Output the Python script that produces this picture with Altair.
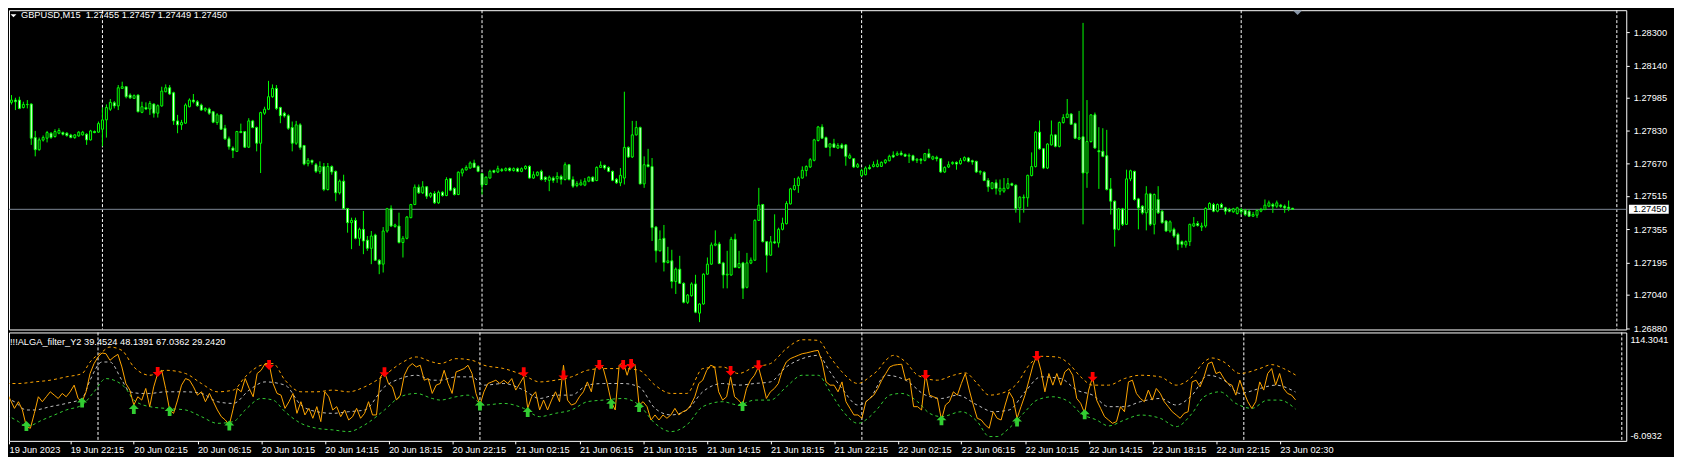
import json
import altair as alt
import pandas as pd

# ---------------- data ----------------
main_title = "GBPUSD,M15\u00a0 1.27455 1.27457 1.27449 1.27450"
ind_title = "!!!ALGA_filter_Y2 39.4524 48.1391 67.0362 29.2420"
ind_max_label = "114.3041"
ind_min_label = "-6.0932"
current_price = 1.27450
price_ticks = [1.28300, 1.28140, 1.27985, 1.27830, 1.27670, 1.27515,
               1.27355, 1.27195, 1.27040, 1.26880]
tick_labels = ["19 Jun 2023", "19 Jun 22:15", "20 Jun 02:15", "20 Jun 06:15",
               "20 Jun 10:15", "20 Jun 14:15", "20 Jun 18:15", "20 Jun 22:15",
               "21 Jun 02:15", "21 Jun 06:15", "21 Jun 10:15", "21 Jun 14:15",
               "21 Jun 18:15", "21 Jun 22:15", "22 Jun 02:15", "22 Jun 06:15",
               "22 Jun 10:15", "22 Jun 14:15", "22 Jun 18:15", "22 Jun 22:15",
               "23 Jun 02:30"]
tick_bars = [0.625] + [16 * k for k in range(1, 21)]
separator_bars = [23, 119, 215, 311]
vline_bars = [406]
shift_marker_bar = [325.25]

opens = [
1.27963,1.27974,1.27974,1.27938,1.27952,1.27955,1.27794,1.27736,1.27782,1.27791,
1.27815,1.27799,1.27815,1.27818,1.27815,1.27806,1.27794,1.27802,1.27807,1.27810,
1.27783,1.27823,1.27820,1.27834,1.27879,1.27930,1.27961,1.27946,1.28030,1.28038,
1.27998,1.27982,1.27998,1.27915,1.27938,1.27931,1.27955,1.27911,1.27946,1.28014,
1.28033,1.28009,1.27874,1.27855,1.27863,1.27942,1.27974,1.27966,1.27950,1.27926,
1.27931,1.27918,1.27866,1.27903,1.27839,1.27788,1.27744,1.27728,1.27823,1.27823,
1.27748,1.27874,1.27842,1.27767,1.27911,1.27930,1.27990,1.28030,1.27938,1.27911,
1.27899,1.27842,1.27767,1.27855,1.27756,1.27669,1.27685,1.27664,1.27632,1.27655,
1.27545,1.27655,1.27632,1.27529,1.27585,1.27454,1.27386,1.27397,1.27311,1.27354,
1.27302,1.27263,1.27327,1.27206,1.27187,1.27346,1.27453,1.27368,1.27370,1.27291,
1.27311,1.27410,1.27473,1.27556,1.27529,1.27558,1.27513,1.27526,1.27481,1.27532,
1.27516,1.27597,1.27550,1.27521,1.27624,1.27639,1.27648,1.27672,1.27656,1.27621,
1.27569,1.27600,1.27636,1.27629,1.27640,1.27637,1.27647,1.27636,1.27645,1.27632,
1.27645,1.27656,1.27600,1.27613,1.27632,1.27604,1.27589,1.27600,1.27597,1.27608,
1.27593,1.27664,1.27593,1.27564,1.27567,1.27566,1.27585,1.27604,1.27588,1.27651,
1.27661,1.27651,1.27632,1.27594,1.27577,1.27600,1.27747,1.27701,1.27807,1.27842,
1.27572,1.27664,1.27655,1.27365,1.27251,1.27311,1.27195,1.27203,1.27104,1.27163,
1.27095,1.27004,1.27036,1.27092,1.26952,1.26996,1.27139,1.27187,1.27278,1.27284,
1.27193,1.27135,1.27135,1.27306,1.27171,1.27193,1.27076,1.27192,1.27206,1.27397,
1.27473,1.27295,1.27230,1.27294,1.27289,1.27354,1.27381,1.27476,1.27545,1.27564,
1.27600,1.27636,1.27653,1.27685,1.27780,1.27845,1.27794,1.27748,1.27764,1.27744,
1.27759,1.27759,1.27696,1.27693,1.27653,1.27612,1.27616,1.27651,1.27655,1.27655,
1.27656,1.27674,1.27683,1.27709,1.27710,1.27720,1.27713,1.27705,1.27707,1.27685,
1.27690,1.27685,1.27717,1.27691,1.27699,1.27693,1.27629,1.27653,1.27669,1.27675,
1.27669,1.27685,1.27696,1.27683,1.27680,1.27628,1.27628,1.27589,1.27550,1.27577,
1.27537,1.27537,1.27551,1.27573,1.27566,1.27457,1.27505,1.27505,1.27612,1.27655,
1.27820,1.27740,1.27648,1.27759,1.27807,1.27752,1.27866,1.27890,1.27907,1.27861,
1.27787,1.27798,1.27624,1.27775,1.27903,1.27731,1.27728,1.27707,1.27548,1.27489,
1.27354,1.27452,1.27378,1.27596,1.27632,1.27500,1.27465,1.27433,1.27524,1.27378,
1.27497,1.27441,1.27394,1.27346,1.27354,1.27330,1.27295,1.27279,1.27295,1.27370,
1.27382,1.27365,1.27370,1.27454,1.27473,1.27441,1.27473,1.27457,1.27449,1.27438,
1.27430,1.27449,1.27446,1.27441,1.27417,1.27422,1.27441,1.27449,1.27465,1.27473,
1.27465,1.27470,1.27465,1.27460,1.27455]

highs = [
1.27998,1.27985,1.27990,1.27966,1.27974,1.27958,1.27826,1.27794,1.27804,1.27826,
1.27820,1.27834,1.27839,1.27823,1.27820,1.27812,1.27810,1.27825,1.27826,1.27815,
1.27831,1.27828,1.27871,1.27938,1.27953,1.27979,1.27969,1.28046,1.28062,1.28041,
1.28006,1.28001,1.28001,1.27966,1.27963,1.27969,1.27958,1.27953,1.28038,1.28049,
1.28046,1.28014,1.27903,1.27879,1.27958,1.27982,1.28003,1.27974,1.27957,1.27939,
1.27938,1.27922,1.27911,1.27906,1.27855,1.27799,1.27752,1.27826,1.27861,1.27826,
1.27887,1.27879,1.27847,1.27918,1.27942,1.28066,1.28049,1.28046,1.27942,1.27918,
1.27906,1.27871,1.27874,1.27863,1.27759,1.27696,1.27688,1.27672,1.27680,1.27672,
1.27672,1.27661,1.27636,1.27593,1.27616,1.27457,1.27410,1.27410,1.27362,1.27442,
1.27322,1.27346,1.27333,1.27211,1.27365,1.27457,1.27469,1.27381,1.27434,1.27322,
1.27418,1.27476,1.27569,1.27569,1.27585,1.27561,1.27532,1.27537,1.27540,1.27537,
1.27604,1.27600,1.27556,1.27632,1.27648,1.27661,1.27680,1.27688,1.27661,1.27624,
1.27608,1.27640,1.27640,1.27659,1.27648,1.27651,1.27651,1.27651,1.27651,1.27651,
1.27661,1.27661,1.27632,1.27632,1.27640,1.27608,1.27612,1.27608,1.27628,1.27616,
1.27675,1.27667,1.27608,1.27585,1.27593,1.27600,1.27608,1.27608,1.27656,1.27680,
1.27664,1.27656,1.27636,1.27600,1.27648,1.28014,1.27752,1.27874,1.27874,1.27847,
1.27704,1.27740,1.27696,1.27370,1.27349,1.27375,1.27270,1.27256,1.27171,1.27227,
1.27100,1.27044,1.27100,1.27136,1.26999,1.27143,1.27219,1.27291,1.27349,1.27294,
1.27198,1.27251,1.27318,1.27333,1.27251,1.27198,1.27241,1.27219,1.27402,1.27553,
1.27476,1.27298,1.27322,1.27426,1.27362,1.27410,1.27489,1.27553,1.27600,1.27608,
1.27656,1.27661,1.27696,1.27788,1.27850,1.27858,1.27799,1.27767,1.27788,1.27767,
1.27767,1.27763,1.27718,1.27696,1.27672,1.27645,1.27656,1.27664,1.27680,1.27688,
1.27680,1.27691,1.27712,1.27728,1.27728,1.27731,1.27718,1.27718,1.27712,1.27696,
1.27696,1.27720,1.27740,1.27707,1.27707,1.27696,1.27656,1.27680,1.27680,1.27680,
1.27696,1.27704,1.27701,1.27688,1.27683,1.27637,1.27632,1.27600,1.27581,1.27593,
1.27593,1.27600,1.27600,1.27578,1.27569,1.27513,1.27521,1.27616,1.27723,1.27826,
1.27876,1.27744,1.27767,1.27876,1.27810,1.27871,1.27906,1.27979,1.27911,1.27866,
1.27922,1.28344,1.27974,1.27906,1.27914,1.27844,1.27839,1.27831,1.27600,1.27492,
1.27457,1.27457,1.27640,1.27640,1.27635,1.27505,1.27470,1.27561,1.27529,1.27526,
1.27561,1.27446,1.27398,1.27397,1.27362,1.27338,1.27301,1.27301,1.27381,1.27413,
1.27394,1.27386,1.27460,1.27484,1.27481,1.27478,1.27481,1.27462,1.27457,1.27457,
1.27462,1.27457,1.27452,1.27449,1.27438,1.27449,1.27457,1.27497,1.27492,1.27481,
1.27492,1.27476,1.27473,1.27492,1.27457]

lows = [
1.27953,1.27926,1.27930,1.27934,1.27934,1.27759,1.27704,1.27731,1.27775,1.27771,
1.27788,1.27794,1.27810,1.27804,1.27798,1.27791,1.27788,1.27798,1.27804,1.27759,
1.27780,1.27815,1.27817,1.27752,1.27794,1.27922,1.27934,1.27926,1.28027,1.27982,
1.27979,1.27979,1.27915,1.27911,1.27926,1.27903,1.27890,1.27890,1.27942,1.28011,
1.27998,1.27855,1.27815,1.27831,1.27860,1.27939,1.27958,1.27942,1.27922,1.27918,
1.27903,1.27863,1.27855,1.27831,1.27783,1.27736,1.27696,1.27725,1.27815,1.27744,
1.27744,1.27839,1.27728,1.27624,1.27903,1.27926,1.27985,1.27926,1.27863,1.27890,
1.27831,1.27728,1.27759,1.27736,1.27661,1.27656,1.27664,1.27624,1.27620,1.27537,
1.27540,1.27616,1.27489,1.27521,1.27449,1.27338,1.27259,1.27306,1.27275,1.27235,
1.27251,1.27187,1.27203,1.27139,1.27147,1.27338,1.27365,1.27362,1.27286,1.27219,
1.27306,1.27407,1.27470,1.27524,1.27524,1.27500,1.27505,1.27476,1.27476,1.27511,
1.27513,1.27537,1.27516,1.27518,1.27608,1.27636,1.27645,1.27648,1.27628,1.27521,
1.27566,1.27597,1.27623,1.27624,1.27629,1.27632,1.27631,1.27631,1.27628,1.27628,
1.27640,1.27597,1.27596,1.27608,1.27588,1.27581,1.27537,1.27577,1.27577,1.27569,
1.27588,1.27588,1.27553,1.27556,1.27564,1.27561,1.27580,1.27581,1.27585,1.27648,
1.27640,1.27628,1.27585,1.27572,1.27561,1.27569,1.27696,1.27696,1.27804,1.27569,
1.27553,1.27651,1.27298,1.27195,1.27248,1.27152,1.27190,1.27071,1.27044,1.27092,
1.26999,1.26996,1.27031,1.26952,1.26909,1.26993,1.27136,1.27184,1.27273,1.27187,
1.27071,1.27071,1.27131,1.27168,1.27166,1.27020,1.27071,1.27187,1.27203,1.27394,
1.27291,1.27147,1.27227,1.27284,1.27267,1.27349,1.27378,1.27473,1.27540,1.27529,
1.27597,1.27608,1.27648,1.27680,1.27775,1.27788,1.27744,1.27704,1.27744,1.27740,
1.27740,1.27659,1.27691,1.27648,1.27648,1.27607,1.27613,1.27640,1.27651,1.27651,
1.27653,1.27667,1.27680,1.27696,1.27707,1.27707,1.27701,1.27672,1.27680,1.27672,
1.27667,1.27680,1.27694,1.27686,1.27680,1.27624,1.27624,1.27648,1.27664,1.27640,
1.27664,1.27680,1.27675,1.27664,1.27624,1.27616,1.27585,1.27534,1.27545,1.27521,
1.27518,1.27529,1.27546,1.27561,1.27434,1.27386,1.27434,1.27462,1.27608,1.27651,
1.27736,1.27643,1.27643,1.27756,1.27747,1.27747,1.27861,1.27887,1.27855,1.27787,
1.27782,1.27378,1.27553,1.27770,1.27740,1.27548,1.27700,1.27540,1.27425,1.27271,
1.27349,1.27370,1.27375,1.27585,1.27492,1.27354,1.27425,1.27349,1.27370,1.27330,
1.27428,1.27381,1.27341,1.27338,1.27314,1.27254,1.27266,1.27266,1.27274,1.27365,
1.27367,1.27346,1.27362,1.27449,1.27436,1.27436,1.27454,1.27425,1.27436,1.27433,
1.27425,1.27425,1.27417,1.27413,1.27413,1.27409,1.27436,1.27446,1.27460,1.27433,
1.27457,1.27457,1.27433,1.27441,1.27449]

closes = [
1.27974,1.27966,1.27934,1.27953,1.27953,1.27791,1.27736,1.27783,1.27794,1.27818,
1.27794,1.27823,1.27828,1.27810,1.27804,1.27794,1.27807,1.27820,1.27820,1.27783,
1.27826,1.27818,1.27861,1.27879,1.27938,1.27963,1.27946,1.28033,1.28038,1.27990,
1.27985,1.27995,1.27918,1.27942,1.27931,1.27958,1.27911,1.27947,1.28017,1.28033,
1.28003,1.27874,1.27855,1.27866,1.27950,1.27974,1.27966,1.27947,1.27926,1.27934,
1.27911,1.27868,1.27903,1.27834,1.27788,1.27750,1.27732,1.27823,1.27818,1.27748,
1.27874,1.27842,1.27767,1.27914,1.27930,1.27990,1.28030,1.27934,1.27899,1.27898,
1.27839,1.27767,1.27855,1.27747,1.27667,1.27685,1.27675,1.27632,1.27655,1.27545,
1.27655,1.27629,1.27529,1.27585,1.27454,1.27386,1.27397,1.27311,1.27354,1.27298,
1.27263,1.27322,1.27206,1.27187,1.27346,1.27453,1.27370,1.27375,1.27291,1.27311,
1.27413,1.27473,1.27556,1.27529,1.27558,1.27513,1.27526,1.27481,1.27532,1.27516,
1.27593,1.27542,1.27521,1.27628,1.27640,1.27651,1.27672,1.27651,1.27632,1.27566,
1.27604,1.27632,1.27628,1.27645,1.27636,1.27645,1.27636,1.27645,1.27632,1.27645,
1.27656,1.27600,1.27616,1.27628,1.27593,1.27593,1.27604,1.27589,1.27608,1.27593,
1.27664,1.27593,1.27561,1.27573,1.27577,1.27585,1.27604,1.27585,1.27651,1.27661,
1.27648,1.27632,1.27589,1.27577,1.27613,1.27747,1.27701,1.27807,1.27842,1.27572,
1.27664,1.27655,1.27362,1.27251,1.27306,1.27195,1.27203,1.27104,1.27163,1.27095,
1.27004,1.27039,1.27092,1.26957,1.26996,1.27139,1.27187,1.27279,1.27284,1.27190,
1.27135,1.27139,1.27306,1.27171,1.27190,1.27071,1.27193,1.27206,1.27397,1.27470,
1.27295,1.27230,1.27294,1.27289,1.27354,1.27383,1.27478,1.27548,1.27564,1.27600,
1.27637,1.27655,1.27688,1.27783,1.27845,1.27791,1.27747,1.27764,1.27747,1.27756,
1.27744,1.27704,1.27707,1.27653,1.27664,1.27636,1.27648,1.27645,1.27664,1.27667,
1.27675,1.27686,1.27704,1.27701,1.27717,1.27712,1.27705,1.27709,1.27685,1.27690,
1.27685,1.27717,1.27699,1.27702,1.27693,1.27629,1.27651,1.27664,1.27675,1.27667,
1.27685,1.27698,1.27680,1.27677,1.27629,1.27632,1.27588,1.27558,1.27577,1.27550,
1.27551,1.27551,1.27573,1.27566,1.27454,1.27508,1.27508,1.27613,1.27655,1.27820,
1.27740,1.27648,1.27763,1.27807,1.27752,1.27866,1.27890,1.27907,1.27858,1.27791,
1.27794,1.27624,1.27775,1.27903,1.27744,1.27726,1.27704,1.27545,1.27489,1.27354,
1.27452,1.27378,1.27596,1.27635,1.27497,1.27457,1.27433,1.27524,1.27378,1.27521,
1.27433,1.27386,1.27346,1.27390,1.27322,1.27282,1.27282,1.27295,1.27378,1.27381,
1.27373,1.27370,1.27454,1.27478,1.27441,1.27473,1.27460,1.27441,1.27441,1.27452,
1.27457,1.27438,1.27425,1.27417,1.27425,1.27445,1.27449,1.27470,1.27481,1.27465,
1.27481,1.27464,1.27457,1.27454,1.27450]

# indicator main line (one value per bar)
alga = [
48.4,39.2,30.0,37.4,28.2,9.8,7.9,24.5,42.9,37.4,
42.9,48.4,44.7,41.0,46.6,42.9,48.4,55.8,41.0,37.4,
48.4,68.7,79.7,87.1,91.5,90.7,83.4,87.1,90.0,76.0,
57.6,50.3,33.7,42.9,39.2,52.1,31.9,53.9,68.7,72.3,
52.1,28.2,24.5,39.2,55.8,63.1,61.3,53.9,44.7,48.4,
37.4,46.6,37.4,28.2,20.8,17.1,11.6,30.0,52.1,48.4,
63.1,52.1,42.9,68.7,72.3,79.7,79.7,57.6,46.6,44.7,
30.0,37.4,46.6,24.5,37.4,22.7,30.0,19.0,31.9,15.3,
48.4,42.9,28.2,31.9,20.8,28.2,17.1,20.8,30.0,19.0,
24.5,37.4,22.7,22.7,65.0,70.5,57.6,53.9,39.2,44.7,
66.8,76.0,79.7,76.0,77.9,61.3,63.1,46.6,55.8,57.6,
72.3,57.6,46.6,70.5,72.3,74.2,77.9,68.7,46.6,33.7,
48.4,57.6,59.4,61.3,57.6,61.3,57.6,63.1,50.3,57.6,
65.0,30.0,42.9,48.4,28.2,39.2,28.2,39.2,48.4,37.4,
77.9,39.2,33.7,35.5,42.9,48.4,59.4,48.4,74.2,79.7,
74.2,57.6,37.4,28.2,77.9,81.5,66.8,81.5,77.9,33.7,
37.4,31.9,17.1,22.7,17.1,22.7,19.0,22.7,30.0,22.7,
26.3,28.2,33.7,42.9,57.6,61.3,72.3,77.9,76.0,48.4,
39.2,42.9,65.0,42.9,39.2,33.7,52.1,61.3,66.8,76.0,
59.4,41.0,48.4,52.1,57.6,72.3,81.5,85.2,87.1,88.9,
90.7,91.5,92.6,93.7,94.4,81.5,59.4,55.8,55.8,48.4,
59.4,37.4,30.0,22.7,22.7,19.0,37.4,41.0,44.7,52.1,
61.3,68.7,76.0,77.9,78.6,79.0,61.3,63.1,31.9,31.9,
28.2,68.7,44.7,42.9,41.0,17.1,33.7,37.4,48.4,44.7,
57.6,68.7,50.3,33.7,19.0,17.1,11.6,7.9,26.3,19.0,
17.1,33.7,48.4,41.0,19.0,31.9,44.7,61.3,77.9,88.9,
72.3,48.4,68.7,55.8,68.7,55.8,70.5,74.2,66.8,41.0,
35.5,24.5,50.3,65.0,39.2,30.0,20.8,17.1,13.4,15.3,
31.9,26.3,59.4,61.3,46.6,41.0,37.4,50.3,39.2,52.1,
46.6,37.4,31.9,26.3,22.7,19.0,24.5,26.3,59.4,61.3,
53.9,65.0,79.7,81.5,68.7,70.5,63.1,57.6,55.8,44.7,
61.3,48.4,37.4,30.0,37.4,59.4,50.3,68.7,74.2,55.8,
68.7,52.1,46.6,44.7,39.45]

upper_bars = [0,3,7,11,15,19,21,24,26,29,32,36,40,45,49,53,57,60,64,67,70,74,78,82,86,90,95,99,103,107,
              109,113,117,120,125,130,134,138,142,146,150,155,159,163,167,171,175,180,184,188,192,196,200,204,207,210,214,217,
              219,221,223,226,229,234,238,241,244,247,250,254,257,260,264,267,270,273,277,281,285,290,294,298,301,303,306,310,315,318,321,324]
upper_vals = [57.6,57.6,59.4,61.3,65.0,68.7,81.5,92.6,98.1,94.4,76.0,66.8,72.3,68.7,57.6,48.4,50.3,65.0,77.9,79.7,61.3,48.4,48.4,50.3,48.4,53.9,66.8,79.7,87.1,81.5,
              79.7,85.2,83.4,77.9,74.2,66.8,59.4,61.3,65.0,72.3,74.2,74.2,72.3,55.8,46.6,46.6,74.2,76.0,68.7,76.0,79.7,96.3,106.2,105.5,87.1,70.5,57.6,65.0,
              72.3,83.4,88.9,81.5,66.8,61.3,66.8,69.4,57.6,44.7,46.6,57.6,77.9,87.8,87.1,79.7,65.0,55.8,55.8,63.1,66.8,65.0,55.8,65.0,81.5,86.0,81.5,68.7,74.2,78.6,74.2,67.04]

mid_bars = [0,2,5,7,11,15,19,21,24,26,29,31,34,36,40,45,49,53,57,61,65,70,74,78,82,86,90,95,99,103,107,
            109,113,117,120,125,130,134,138,142,146,150,155,159,163,167,171,175,180,184,188,192,196,200,204,207,210,214,217,
            221,226,231,235,239,244,248,252,256,260,265,269,273,277,281,285,290,294,298,302,306,310,315,319,324]
mid_vals = [41.0,37.4,28.2,28.2,31.9,35.5,41.0,61.3,81.5,81.5,61.3,48.4,46.6,46.6,48.4,48.4,46.6,37.4,35.5,50.3,59.4,55.8,33.7,26.3,24.5,26.3,28.2,53.9,63.1,66.8,61.3,
            61.3,65.0,65.0,55.8,57.6,50.3,41.0,44.7,44.7,55.8,57.6,57.6,53.9,30.0,22.7,28.2,48.4,57.6,55.8,57.6,59.4,76.0,85.2,88.9,70.5,52.1,33.7,41.0,
            66.8,61.3,44.7,41.0,44.7,33.7,26.3,28.2,48.4,65.0,63.1,50.3,44.7,31.9,31.9,37.4,41.0,33.7,44.7,66.8,61.3,46.6,52.1,55.8,48.14]

lower_bars = [0,3,5,9,12,15,19,22,25,27,30,32,36,40,45,49,53,57,60,64,67,70,74,78,82,86,90,95,99,103,107,
              109,113,116,120,125,130,134,138,142,146,150,155,159,163,167,171,175,180,184,188,192,196,200,204,207,210,214,217,
              219,222,225,229,232,235,240,244,247,249,252,256,259,263,267,270,274,277,281,285,290,294,298,301,305,309,313,317,320,324]
lower_vals = [22.6,15.3,9.7,17.1,22.6,28.2,33.7,48.4,63.1,61.3,52.1,39.2,31.9,30.0,28.2,20.8,13.4,15.3,28.2,41.0,39.2,26.3,13.4,7.9,6.1,4.2,11.6,28.2,42.9,46.6,41.0,
              39.2,42.9,44.7,33.7,35.5,30.0,20.8,24.5,28.2,37.4,39.2,41.0,33.7,13.4,4.2,11.6,31.9,37.4,33.7,39.2,39.2,53.9,66.8,66.8,48.4,28.2,13.4,20.8,
              30.0,44.7,46.6,37.4,24.5,20.8,26.3,15.3,-1.3,-1.3,7.9,26.3,39.2,42.9,37.4,24.5,17.1,10.5,17.1,22.6,19.0,9.7,24.5,42.9,48.4,35.5,30.0,39.2,39.2,29.24]

buy_bars = [5, 19, 32, 41, 56, 119, 131, 152, 159, 185, 235, 254, 271]
buy_vals = [10.5, 36.6, 29.3, 27.1, 10.9, 33.3, 25.9, 35.1, 31.5, 32.6, 16.7, 15.3, 23.4]
sell_bars = [38, 66, 95, 130, 140, 149, 155, 157, 182, 189, 231, 259, 273]
sell_vals = [70.5, 78.2, 70.1, 70.1, 66.4, 78.2, 78.2, 79.3, 71.6, 77.9, 67.2, 88.2, 65.0]

# ---------------- tables ----------------
n = len(closes)
bars = pd.DataFrame({"i": list(range(n)), "open": opens, "high": highs,
                     "low": lows, "close": closes})
bars["dir"] = ["bull" if c >= o else "bear" for o, c in zip(opens, closes)]
ind_df = pd.DataFrame({"i": list(range(len(alga))), "v": alga})
upper_df = pd.DataFrame({"i": upper_bars, "v": upper_vals})
mid_df = pd.DataFrame({"i": mid_bars, "v": mid_vals})
lower_df = pd.DataFrame({"i": lower_bars, "v": lower_vals})
buy_df = pd.DataFrame({"i": buy_bars, "v": buy_vals})
sell_df = pd.DataFrame({"i": sell_bars, "v": sell_vals})
sep_df = pd.DataFrame({"i": separator_bars + vline_bars})
cp_df = pd.DataFrame({"p": [current_price]})
one = pd.DataFrame({"t": [main_title]})
shift_df = pd.DataFrame({"i": shift_marker_bar})

# ---------------- styling ----------------
FONT = "Liberation Sans"
FS = 9.3
LIME = "#00ff00"
W = 1626

xs = alt.Scale(domain=[0.625, 407.125], nice=False, zero=False)
ys = alt.Scale(domain=[1.268738, 1.284049], nice=False, zero=False)
ys2 = alt.Scale(domain=[-6.0932, 114.3041], nice=False, zero=False)

yaxis = alt.Axis(orient="right", values=price_ticks, format=".5f", tickSize=3,
                 tickColor="white", tickWidth=1, labelColor="white",
                 labelFont=FONT, labelFontSize=FS, labelPadding=4,
                 domain=False, grid=False, title=None, labelOverlap=False)

label_expr = json.dumps(tick_labels) + "[round(datum.value / 16)]"
xaxis = alt.Axis(values=tick_bars, labelExpr=label_expr, tickSize=3,
                 tickColor="white", tickWidth=1, labelColor="white",
                 labelFont=FONT, labelFontSize=FS, labelAlign="left",
                 labelBaseline="top", labelPadding=2, domain=False, grid=False,
                 title=None, labelOverlap=False, labelFlush=False, labelBound=False)

Xn = alt.X("i:Q", scale=xs, axis=None)
Xa = alt.X("i:Q", scale=xs, axis=xaxis)

UP = "M0,-1 L1,0 L0.38,0 L0.38,1 L-0.38,1 L-0.38,0 L-1,0 Z"
DOWN = "M0,1 L1,0 L0.38,0 L0.38,-1 L-0.38,-1 L-0.38,0 L-1,0 Z"
TRI = "M-1,-0.5 L1,-0.5 L0,0.5 Z"

# ---------------- main price panel ----------------
seps = alt.Chart(sep_df).mark_rule(color="white", strokeWidth=1, strokeDash=[3, 2]).encode(x=Xn)
pline = alt.Chart(cp_df).mark_rule(color="#7d8796", strokeWidth=1).encode(
    y=alt.Y("p:Q", scale=ys, axis=yaxis))
wicks = alt.Chart(bars).mark_rule(color=LIME, strokeWidth=1, clip=True).encode(
    x=Xn, y=alt.Y("low:Q", scale=ys, axis=yaxis), y2="high:Q")
bodies = alt.Chart(bars).mark_bar(size=2, stroke=LIME, strokeWidth=1, clip=True).encode(
    x=Xn, y=alt.Y("open:Q", scale=ys, axis=yaxis), y2="close:Q",
    fill=alt.Fill("dir:N", scale=alt.Scale(domain=["bull", "bear"], range=["black", "white"]), legend=None))
title_txt = alt.Chart(one).mark_text(align="left", baseline="middle", color="white",
                                     font=FONT, fontSize=FS).encode(
    x=alt.value(12), y=alt.value(4.7), text="t:N")
title_tri = alt.Chart(one).mark_point(shape=TRI, filled=True, size=36, color="white",
                                      opacity=1, strokeWidth=0).encode(
    x=alt.value(4.5), y=alt.value(5.5))
shift_tri = alt.Chart(shift_df).mark_point(shape=TRI, filled=True, size=81, color="#8896a8",
                                           opacity=1, strokeWidth=0).encode(
    x=Xn, y=alt.value(2.5))
box = alt.Chart(cp_df).mark_rule(color="white", strokeWidth=9, strokeCap="butt").encode(
    x=alt.value(W + 2.7), x2=alt.value(W + 42.7), y=alt.Y("p:Q", scale=ys, axis=yaxis))
box_txt = alt.Chart(cp_df).mark_text(align="left", baseline="middle", color="black",
                                     font=FONT, fontSize=FS).encode(
    x=alt.value(W + 7), y=alt.Y("p:Q", scale=ys, axis=yaxis),
    text=alt.Text("p:Q", format=".5f"))

main = alt.layer(seps, pline, wicks, bodies, title_txt, title_tri, shift_tri,
                 box, box_txt).properties(width=W, height=321)

# ---------------- indicator panel ----------------
Yi = alt.Y("v:Q", scale=ys2, axis=None)
seps_i = alt.Chart(sep_df).mark_rule(color="white", strokeWidth=1, strokeDash=[3, 2]).encode(x=Xa)
upper = alt.Chart(upper_df).mark_line(color="#FFA500", strokeWidth=1, strokeDash=[3, 3],
                                      interpolate="monotone", clip=True).encode(x=Xa, y=Yi)
lower = alt.Chart(lower_df).mark_line(color="#32CD32", strokeWidth=1, strokeDash=[3, 3],
                                      interpolate="monotone", clip=True).encode(x=Xa, y=Yi)
middle = alt.Chart(mid_df).mark_line(color="#C0C0C0", strokeWidth=1, strokeDash=[3, 3],
                                     interpolate="monotone", clip=True).encode(x=Xa, y=Yi)
orange = alt.Chart(ind_df).mark_line(color="#FFA500", strokeWidth=1, clip=True).encode(x=Xa, y=Yi)
buys = alt.Chart(buy_df).mark_point(shape=UP, filled=True, size=100, color="#32CD32",
                                    opacity=1, strokeWidth=0).encode(x=Xa, y=Yi)
sells = alt.Chart(sell_df).mark_point(shape=DOWN, filled=True, size=100, color="#FF0000",
                                      opacity=1, strokeWidth=0).encode(x=Xa, y=Yi)
ind_title_txt = alt.Chart(pd.DataFrame({"t": [ind_title]})).mark_text(
    align="left", baseline="middle", color="white", font=FONT, fontSize=FS).encode(
    x=alt.value(1), y=alt.value(9.7), text="t:N")
ind_max = alt.Chart(pd.DataFrame({"t": [ind_max_label]})).mark_text(
    align="left", baseline="middle", color="white", font=FONT, fontSize=FS).encode(
    x=alt.value(W + 4.3), y=alt.value(7.3), text="t:N")
ind_min = alt.Chart(pd.DataFrame({"t": [ind_min_label]})).mark_text(
    align="left", baseline="middle", color="white", font=FONT, fontSize=FS).encode(
    x=alt.value(W + 4.3), y=alt.value(103.7), text="t:N")

ind = alt.layer(seps_i, upper, lower, middle, orange, buys, sells,
                ind_title_txt, ind_max, ind_min).properties(width=W, height=109)

chart = alt.vconcat(main, ind, spacing=3, bounds="flush").properties(
    padding=0
).configure(background="black").configure_view(stroke="white", strokeWidth=1)

chart.save("out.html", embed_options={"renderer": "svg", "actions": False})
